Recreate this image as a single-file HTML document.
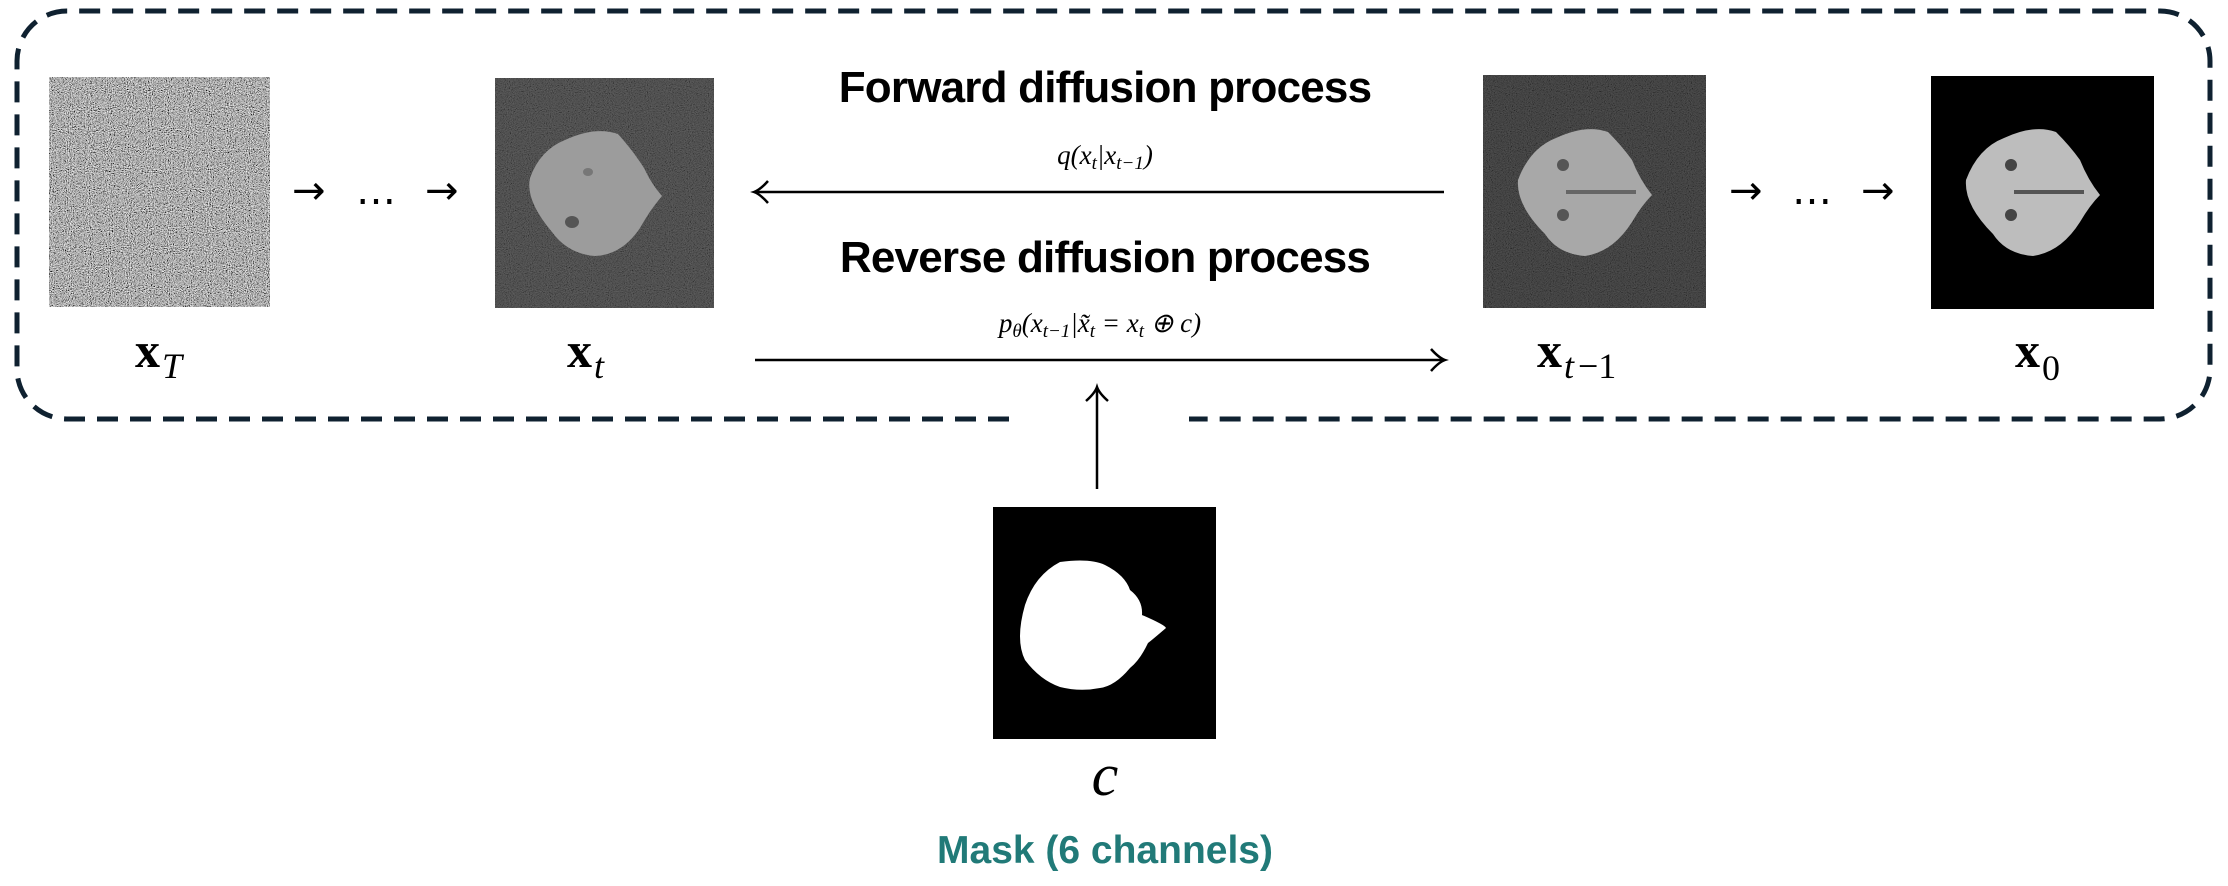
<!DOCTYPE html>
<html><head><meta charset="utf-8"><style>
html,body{margin:0;padding:0;background:#fff;}
svg{display:block}
</style></head><body>
<svg width="2228" height="886" viewBox="0 0 2228 886" xmlns="http://www.w3.org/2000/svg">
<defs>
<filter id="noise" x="0" y="0" width="100%" height="100%">
<feTurbulence type="fractalNoise" baseFrequency="0.95" numOctaves="2" seed="3"/>
<feColorMatrix type="matrix" values="0.33 0.33 0.33 0 0  0.33 0.33 0.33 0 0  0.33 0.33 0.33 0 0  0 0 0 0 1"/>
<feComponentTransfer><feFuncR type="linear" slope="3.2" intercept="-1.15"/><feFuncG type="linear" slope="3.2" intercept="-1.15"/><feFuncB type="linear" slope="3.2" intercept="-1.15"/></feComponentTransfer>
</filter>
<filter id="noise2" x="0" y="0" width="100%" height="100%">
<feTurbulence type="fractalNoise" baseFrequency="0.95" numOctaves="2" seed="7"/>
<feColorMatrix type="matrix" values="0.33 0.33 0.33 0 0  0.33 0.33 0.33 0 0  0.33 0.33 0.33 0 0  0 0 0 0 1"/>
<feComponentTransfer><feFuncR type="linear" slope="1.6" intercept="-0.55"/><feFuncG type="linear" slope="1.6" intercept="-0.55"/><feFuncB type="linear" slope="1.6" intercept="-0.55"/></feComponentTransfer>
</filter>
</defs>

<path d="M1009 419 H67 A50 50 0 0 1 17 369 V61 A50 50 0 0 1 67 11 H2160 A50 50 0 0 1 2210 61 V369 A50 50 0 0 1 2160 419 H1189" fill="none" stroke="#0f2130" stroke-width="5" stroke-dasharray="21 12"/>

<!-- xT noise -->
<rect x="49" y="77" width="221" height="230" fill="#6e6e6e"/>
<rect x="49" y="77" width="221" height="230" filter="url(#noise)"/>

<!-- xt -->
<rect x="495" y="78" width="219" height="230" fill="#3a3a3a"/>
<rect x="495" y="78" width="219" height="230" filter="url(#noise2)" opacity="0.3"/>
<path d="M565 140 Q595 126 618 134 Q634 152 644 168 Q652 185 662 196 Q650 210 640 228 Q622 255 595 256 Q568 254 552 232 Q525 200 530 178 Q540 150 565 140 Z" fill="#9c9c9c"/>
<ellipse cx="572" cy="222" rx="7" ry="6" fill="#555"/>
<ellipse cx="588" cy="172" rx="5" ry="4" fill="#777"/>

<!-- xt-1 -->
<rect x="1483" y="75" width="223" height="233" fill="#2e2e2e"/>
<rect x="1483" y="75" width="223" height="233" filter="url(#noise2)" opacity="0.25"/>
<path d="M1556 138 Q1586 124 1608 132 Q1622 146 1632 160 Q1640 180 1652 195 Q1642 205 1632 222 Q1613 252 1585 256 Q1558 254 1545 234 Q1516 205 1518 180 Q1530 148 1556 138 Z" fill="#a8a8a8"/>
<ellipse cx="1563" cy="165" rx="6" ry="6" fill="#555"/>
<ellipse cx="1563" cy="215" rx="6" ry="6" fill="#555"/>
<rect x="1566" y="190" width="70" height="4" fill="#666"/>

<!-- x0 -->
<rect x="1931" y="76" width="223" height="233" fill="#000"/>
<path d="M2004 138 Q2034 124 2056 132 Q2070 146 2080 160 Q2088 180 2100 195 Q2090 205 2080 222 Q2061 252 2033 256 Q2006 254 1993 234 Q1964 205 1966 180 Q1978 148 2004 138 Z" fill="#bdbdbd"/>
<ellipse cx="2011" cy="165" rx="6" ry="6" fill="#444"/>
<ellipse cx="2011" cy="215" rx="6" ry="6" fill="#444"/>
<rect x="2014" y="190" width="70" height="4" fill="#555"/>

<!-- mask -->
<rect x="993" y="507" width="223" height="232" fill="#000"/>
<path d="M1060 562 Q1090 558 1105 565 Q1125 575 1130 590 Q1143 600 1142 615 Q1165 625 1166 628 Q1152 640 1148 643 Q1140 660 1130 668 Q1115 686 1100 688 Q1080 692 1060 687 Q1040 680 1025 660 Q1015 640 1025 605 Q1035 575 1060 562 Z" fill="#fff"/>

<g font-family="Liberation Serif, serif" fill="#000">
<text x="160" y="367" font-size="50" font-weight="bold" text-anchor="end">x</text><text x="162" y="378" font-size="36" font-style="italic">T</text>
<text x="592" y="367" font-size="50" font-weight="bold" text-anchor="end">x</text><text x="594" y="378" font-size="36" font-style="italic">t</text>
<text x="1562" y="367" font-size="50" font-weight="bold" text-anchor="end">x</text><text x="1564" y="378" font-size="36" font-style="italic">t</text><text x="1578" y="378" font-size="36">−1</text>
<text x="2040" y="367" font-size="50" font-weight="bold" text-anchor="end">x</text><text x="2042" y="380" font-size="36">0</text>
<text x="1105" y="795" font-size="60" font-style="italic" text-anchor="middle">c</text>
</g>

<g font-family="DejaVu Sans, sans-serif" font-size="40" fill="#000">
<text x="292" y="204">→</text><text x="356" y="204">…</text><text x="425" y="204">→</text>
<text x="1729" y="204">→</text><text x="1792" y="204">…</text><text x="1861" y="204">→</text>
</g>

<g font-family="Liberation Sans, sans-serif" font-weight="bold" font-size="44" fill="#000" text-anchor="middle" letter-spacing="-0.8">
<text x="1105" y="102">Forward diffusion process</text>
<text x="1105" y="272">Reverse diffusion process</text>
</g>
<g font-family="Liberation Serif, serif" font-style="italic" font-size="27" fill="#000" text-anchor="middle">
<text x="1105" y="164">q(x<tspan font-size="19" dy="5">t</tspan><tspan dy="-5">|x</tspan><tspan font-size="19" dy="5">t−1</tspan><tspan dy="-5">)</tspan></text>
<text x="1100" y="332">p<tspan font-size="19" dy="5">θ</tspan><tspan dy="-5">(x</tspan><tspan font-size="19" dy="5">t−1</tspan><tspan dy="-5">|x̃</tspan><tspan font-size="19" dy="5">t</tspan><tspan dy="-5"> = x</tspan><tspan font-size="19" dy="5">t</tspan><tspan dy="-5"> ⊕ c)</tspan></text>
</g>

<g stroke="#000" stroke-width="2.5" fill="none">
<line x1="755" y1="192" x2="1444" y2="192"/>
<path d="M768 181 Q760 190 754 192 Q760 194 768 203"/>
<line x1="755" y1="360" x2="1444" y2="360"/>
<path d="M1431 349 Q1439 358 1445 360 Q1439 362 1431 371"/>
<line x1="1097" y1="489" x2="1097" y2="388"/>
<path d="M1086 401 Q1095 393 1097 387 Q1099 393 1108 401"/>
</g>

<text x="1105" y="863" font-family="Liberation Sans, sans-serif" font-weight="bold" font-size="39" fill="#217a78" text-anchor="middle">Mask (6 channels)</text>
</svg>
</body></html>
